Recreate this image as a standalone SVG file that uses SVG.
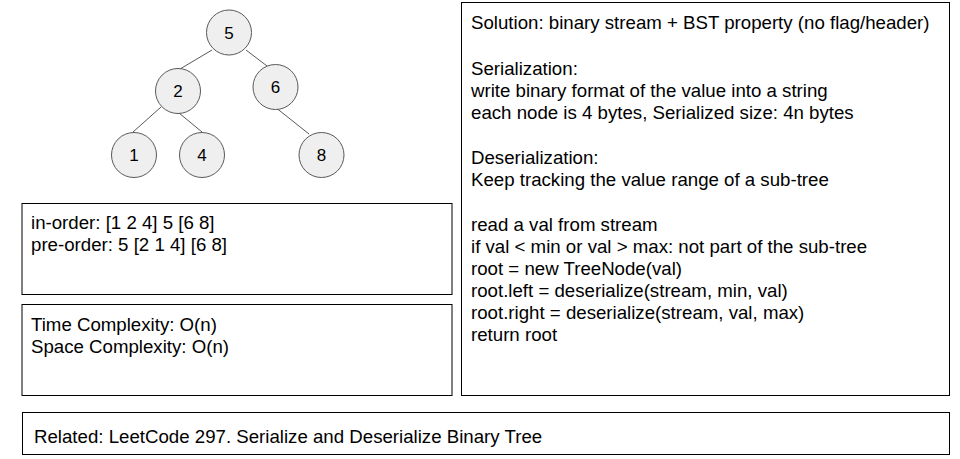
<svg xmlns="http://www.w3.org/2000/svg" width="960" height="459" viewBox="0 0 960 459">
<style>
.n{fill:#efefef;stroke:#595959;stroke-width:1}
.e{stroke:#595959;stroke-width:1;fill:none}
.b{fill:#fff;stroke:#000;stroke-width:1}
text{font-family:"Liberation Sans",Arial,sans-serif;font-size:18.67px;fill:#000}
.c{text-anchor:middle;font-size:17px}
</style>
<rect width="960" height="459" fill="#fff"/>
<g id="connectors">
<line class="e" x1="212" y1="50" x2="180" y2="69"/>
<line class="e" x1="246" y1="50" x2="267" y2="66"/>
<line class="e" x1="161" y1="107" x2="133" y2="132"/>
<line class="e" x1="179" y1="113" x2="202" y2="132"/>
<line class="e" x1="275" y1="107" x2="309" y2="134"/>
</g>
<g id="node5"><circle class="n" cx="229" cy="32.5" r="22.5"/><text class="c" x="229" y="38.5">5</text></g>
<g id="node2"><circle class="n" cx="178" cy="91" r="22.5"/><text class="c" x="178" y="97">2</text></g>
<g id="node6"><circle class="n" cx="275.5" cy="87" r="22.5"/><text class="c" x="275.5" y="93">6</text></g>
<g id="node1"><circle class="n" cx="134" cy="155" r="22.5"/><text class="c" x="134" y="161">1</text></g>
<g id="node4"><circle class="n" cx="202" cy="155" r="22.5"/><text class="c" x="202" y="161">4</text></g>
<g id="node8"><circle class="n" cx="321.5" cy="155" r="22.5"/><text class="c" x="321.5" y="161">8</text></g>
<g id="orders">
<rect class="b" x="22" y="203.5" width="430" height="91"/>
<text x="31" y="229">in-order: [1 2 4] 5 [6 8]</text>
<text x="31" y="251">pre-order: 5 [2 1 4] [6 8]</text>
</g>
<g id="complexity">
<rect class="b" x="22" y="304.5" width="430" height="91"/>
<text x="31" y="331">Time Complexity: O(n)</text>
<text x="31" y="353">Space Complexity: O(n)</text>
</g>
<g id="solution">
<rect class="b" x="461.5" y="2.5" width="488" height="393"/>
<text x="471" y="29">Solution: binary stream + BST property (no flag/header)</text>
<text x="471" y="75">Serialization:</text>
<text x="471" y="97">write binary format of the value into a string</text>
<text x="471" y="119">each node is 4 bytes, Serialized size: 4n bytes</text>
<text x="471" y="164">Deserialization:</text>
<text x="471" y="186">Keep tracking the value range of a sub-tree</text>
<text x="471" y="231">read a val from stream</text>
<text x="471" y="253">if val &lt; min or val &gt; max: not part of the sub-tree</text>
<text x="471" y="275">root = new TreeNode(val)</text>
<text x="471" y="297">root.left = deserialize(stream, min, val)</text>
<text x="471" y="319">root.right = deserialize(stream, val, max)</text>
<text x="471" y="341">return root</text>
</g>
<g id="related">
<rect class="b" x="22.5" y="412.5" width="927" height="42"/>
<text x="34" y="443">Related: LeetCode 297. Serialize and Deserialize Binary Tree</text>
</g>
</svg>
